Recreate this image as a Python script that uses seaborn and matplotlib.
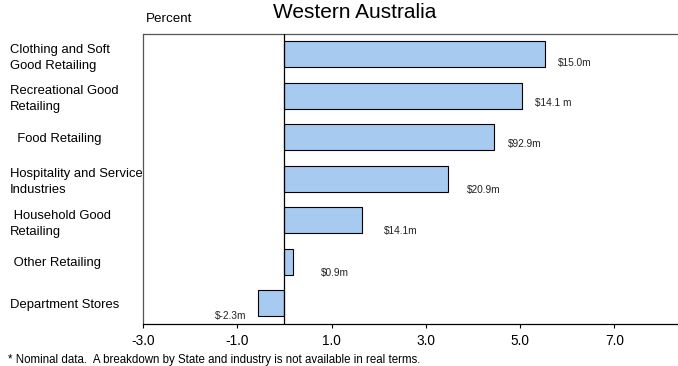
import matplotlib
matplotlib.use("Agg")
import matplotlib.pyplot as plt
import seaborn as sns
import pandas as pd

# Sales growth by industry, Western Australia (percent)
categories = [
    "Clothing and Soft\nGood Retailing",
    "Recreational Good\nRetailing",
    "  Food Retailing",
    "Hospitality and Service\nIndustries",
    " Household Good\nRetailing",
    " Other Retailing",
    "Department Stores",
]
growth = [5.53, 5.03, 4.44, 3.48, 1.64, 0.19, -0.56]
value_labels = ["$15.0m", "$14.1 m", "$92.9m", "$20.9m", "$14.1m", "$0.9m", "$-2.3m"]
x_ticks = [-3.0, -1.0, 1.0, 3.0, 5.0, 7.0]

# label placement (points from bar end) — layout only
label_dx = [9, 10, 10, 13, 16, 20, -31]
label_dy = [-6, -5, -5, -8, -8, -8, -9]

df = pd.DataFrame({"category": categories, "growth": growth})

sns.set_theme(style="white")
plt.rcParams["font.family"] = ["Liberation Sans", "DejaVu Sans"]

fig = plt.figure(figsize=(6.78, 3.66), dpi=100)
ax = fig.add_axes([143 / 678, 42 / 366, 1 - 143 / 678, 290.5 / 366])

sns.barplot(data=df, y="category", x="growth", orient="h", ax=ax,
            color="#A6CAF0", saturation=1, width=0.63,
            edgecolor="black", linewidth=0.8)

ax.set_xlim(-3.0, 8.35)
ax.set_ylim(6.5, -0.5)
ax.axvline(0, color="black", linewidth=0.9, zorder=3)

ax.set_xticks(x_ticks)
ax.set_xticklabels([f"{t:.1f}" for t in x_ticks], fontsize=9.8, color="black")
ax.tick_params(axis="x", direction="out", length=3, width=0.8, color="black",
               pad=4, bottom=True)
ax.tick_params(axis="y", length=0, pad=0)
ax.set_yticklabels(categories, fontsize=9.4, color="black", ha="left",
                   linespacing=1.45)
for lab in ax.get_yticklabels():
    lab.set_x(-133 / 535)
ax.set_xlabel("")
ax.set_ylabel("")

for side in ["left", "top", "bottom"]:
    ax.spines[side].set_visible(True)
    ax.spines[side].set_linewidth(0.9)
ax.spines["left"].set_color("#555555")
ax.spines["top"].set_color("#555555")
ax.spines["bottom"].set_color("black")
ax.spines["right"].set_visible(False)

for i, (v, lab) in enumerate(zip(growth, value_labels)):
    ax.annotate(lab, xy=(v, i), xytext=(label_dx[i], label_dy[i]),
                textcoords="offset points", fontsize=7.3, color="#222222",
                ha="left", va="center")

fig.text(355 / 678, 1 - 12 / 366, "Western Australia", fontsize=15,
         ha="center", va="center", color="black")
fig.text(146 / 678, 1 - 19 / 366, "Percent", fontsize=9.6, ha="left",
         va="center", color="black")
fig.text(8 / 678, 1 - 360 / 366,
         "* Nominal data.  A breakdown by State and industry is not available in real terms.",
         fontsize=8.3, ha="left", va="center", color="black")

fig.savefig("out.png", dpi=100)
